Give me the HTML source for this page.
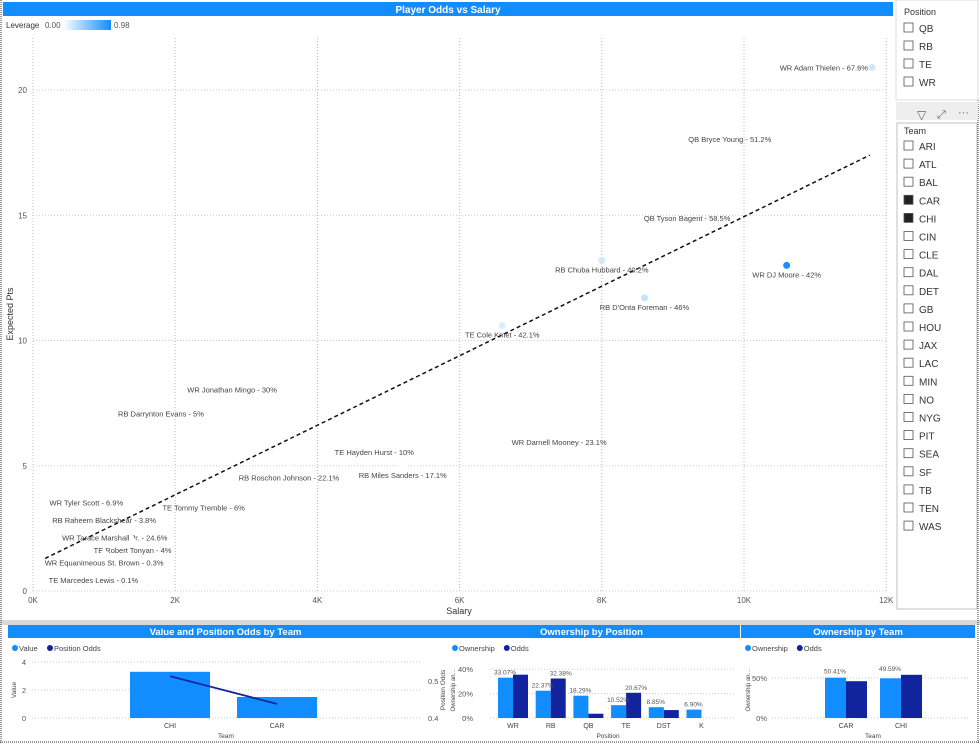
<!DOCTYPE html>
<html><head><meta charset="utf-8"><style>
body{margin:0;background:#fff;font-family:"Liberation Sans",sans-serif}
svg text{font-family:"Liberation Sans",sans-serif}
</style></head><body>
<svg id="s" width="980" height="744" xmlns="http://www.w3.org/2000/svg">
<defs><linearGradient id="lg" x1="0" x2="1"><stop offset="0" stop-color="#fff"/><stop offset="1" stop-color="#118dff"/></linearGradient></defs>
<rect x="0" y="0" width="980" height="744" fill="#fff"/>
<rect x="0" y="620" width="980" height="5" fill="#d8d8d8"/>
<line x1="1" y1="0" x2="1" y2="744" stroke="#333" stroke-dasharray="1,1"/>
<line x1="978" y1="0" x2="978" y2="744" stroke="#333" stroke-dasharray="1,1"/>
<line x1="0" y1="742" x2="980" y2="742" stroke="#333" stroke-dasharray="1,1"/>
<g>
<rect x="3" y="2" width="890" height="14" fill="#118dff"/>
<text x="448" y="13" font-size="10" font-weight="bold" fill="#fff" text-anchor="middle">Player Odds vs Salary</text>
<text x="6" y="28" font-size="8" fill="#333">Leverage</text>
<text x="45" y="28" font-size="8" fill="#555">0.00</text>
<rect x="63" y="20" width="48" height="10" fill="url(#lg)"/>
<text x="114" y="28" font-size="8" fill="#555">0.98</text>
<g id="sc"></g>
</g>
<g>
<rect x="896" y="0" width="82" height="100" fill="#fff" stroke="#ddd"/>
<text x="904" y="15" font-size="9" fill="#333">Position</text>
<g id="pos"></g>
<rect x="896" y="102" width="82" height="18" fill="#eee"/>
<text x="917" y="119" font-size="12" fill="#666">▽</text>
<text x="937" y="118" font-size="11" fill="#666">⤢</text>
<text x="958" y="116" font-size="11" fill="#666">···</text>
<rect x="897" y="123" width="80" height="486" fill="#fff" stroke="#999" stroke-width="0.6"/>
<text x="904" y="134" font-size="9" fill="#333">Team</text>
<g id="team"></g>
</g>
<g id="b1"></g><g id="b2"></g><g id="b3"></g>
</svg>
<script>
// ---------- scatter data ----------
const players=["WR Adam Thielen - 67.6%","QB Bryce Young - 51.2%","QB Tyson Bagent - 58.5%","RB Chuba Hubbard - 40.2%","WR DJ Moore - 42%","RB D'Onta Foreman - 46%","TE Cole Kmet - 42.1%","WR Jonathan Mingo - 30%","RB Darrynton Evans - 5%","WR Darnell Mooney - 23.1%","TE Hayden Hurst - 10%","RB Miles Sanders - 17.1%","RB Roschon Johnson - 22.1%","WR Tyler Scott - 6.9%","TE Tommy Tremble - 6%","RB Raheem Blackshear - 3.8%","WR Tarace Marshall Jr. - 24.6%","TE Robert Tonyan - 4%","WR Equanimeous St. Brown - 0.3%","TE Marcedes Lewis - 0.1%"];
const salary=[11.8,9.8,9.2,8.0,10.6,8.6,6.6,2.8,1.8,7.4,4.8,5.2,3.6,0.75,2.4,1.0,1.15,1.4,1.0,0.85];
const expPts=[20.9,18.4,15.25,13.2,13.0,11.7,10.6,8.4,7.45,6.3,5.9,5.0,4.9,3.9,3.7,3.2,2.5,2.0,1.5,0.8];
const leverage=[0.2,0,0,0.2,0.98,0.25,0.15,0,0,0,0,0,0,0,0,0,0,0,0,0];
const xTicks=[0,2,4,6,8,10,12];
const yTicks=[0,5,10,15,20];
const trendX=[0.17,11.77];
const trendY=[1.3,17.4];
const NS="http://www.w3.org/2000/svg";
function mk(p,tag,a,txt){const e=document.createElementNS(NS,tag);for(const k in a)e.setAttribute(k,a[k]);if(txt!==undefined)e.textContent=txt;p.appendChild(e);return e;}
const sx=v=>33+v*71.1, sy=v=>591-v*25.05;
const sc=document.getElementById('sc');
xTicks.forEach(t=>{const g=mk(sc,'g',{});


mk(g,'line',{x1:sx(t),x2:sx(t),y1:38,y2:591,stroke:'#bbb','stroke-dasharray':'1,2'});
const l=mk(g,'text',{x:sx(t),y:603,'font-size':8,fill:'#555','text-anchor':'middle'},t+'K');

});
yTicks.forEach(t=>{const g=mk(sc,'g',{});


mk(g,'line',{x1:33,x2:886,y1:sy(t),y2:sy(t),stroke:'#ccc','stroke-dasharray':'1,2'});
const l=mk(g,'text',{x:27,y:sy(t)+3,'font-size':8,fill:'#555','text-anchor':'end'},t);

});
let xt=mk(sc,'text',{x:459,y:614,'font-size':9,fill:'#333','text-anchor':'middle'},'Salary');


let yt=mk(sc,'text',{x:13,y:314,'font-size':9,fill:'#333','text-anchor':'middle',transform:'rotate(-90 13 314)'},'Expected Pts');


let tl=mk(sc,'line',{x1:sx(trendX[0]),y1:sy(trendY[0]),x2:sx(trendX[1]),y2:sy(trendY[1]),stroke:'#111','stroke-width':1.5,'stroke-dasharray':'4,3'});


function levColor(v){const r=Math.round(255+(17-255)*v),g=Math.round(255+(141-255)*v);return `rgb(${r},${g},255)`;}
players.forEach((p,i)=>{const cx=sx(salary[i]),cy=sy(expPts[i]);
const c=mk(sc,'circle',{cx:cx,cy:cy,r:3.5,fill:levColor(leverage[i])});


let w=p.length*3.75,lx=cx,ly=cy+12,anchor='middle';
if(cx+w/2>880){lx=cx-4;ly=cy+3;anchor='end';}
const t=mk(sc,'text',{x:lx,y:ly,'font-size':7.5,fill:'#444','text-anchor':anchor},p);

});
// ---------- slicers ----------
const positions=["QB","RB","TE","WR"];
const teams=["ARI","ATL","BAL","CAR","CHI","CIN","CLE","DAL","DET","GB","HOU","JAX","LAC","MIN","NO","NYG","PIT","SEA","SF","TB","TEN","WAS"];
const selTeams=["CAR","CHI"];
const pg=document.getElementById('pos');
positions.forEach((p,i)=>{const y=28+i*18;const g=mk(pg,'g',{});


mk(g,'rect',{x:904,y:y-5,width:9,height:9,fill:'#fff',stroke:'#555','stroke-width':0.8});
mk(g,'text',{x:919,y:y+4,'font-size':10,fill:'#333'},p);});
const tg=document.getElementById('team');
teams.forEach((p,i)=>{const y=146+i*18.1;const s=selTeams.includes(p);const g=mk(tg,'g',{});


mk(g,'rect',{x:904,y:y-5,width:9,height:9,fill:s?'#222':'#fff',stroke:'#555','stroke-width':0.8});
mk(g,'text',{x:919,y:y+4,'font-size':10,fill:'#333'},p);});
// ---------- bottom panel helpers ----------
function panel(g,x0,w,title){mk(g,'rect',{x:x0,y:625,width:w,height:13,fill:'#118dff'});
const t=mk(g,'text',{x:x0+w/2,y:635,'font-size':9.5,'font-weight':'bold',fill:'#fff','text-anchor':'middle'},title);

}
function legend(g,x,items){let cx=x;items.forEach(([lab,col])=>{const e=mk(g,'g',{});


mk(e,'circle',{cx:cx+3,cy:648,r:3,fill:col});mk(e,'text',{x:cx+7,y:651,'font-size':7.5,fill:'#444'},lab);cx+=lab.length*4.2+14;});}
// panel 1
const p1Teams=["CHI","CAR"];
const p1Value=[3.3,1.5];
const p1Odds=[0.513,0.438];
const p1Ticks=[0,2,4];
const p1RTicks=[0.4,0.5];
const b1=document.getElementById('b1');
panel(b1,8,435,'Value and Position Odds by Team');
legend(b1,12,[['Value','#118dff'],['Position Odds','#12239e']]);
const v1=v=>718-v*14, o1=v=>718-(v-0.4)*370, c1=i=>170+i*107;
p1Ticks.forEach(t=>{mk(b1,'line',{x1:32,x2:420,y1:v1(t),y2:v1(t),stroke:'#ccc','stroke-dasharray':'1,2'});mk(b1,'text',{x:26,y:v1(t)+3,'font-size':7.5,fill:'#555','text-anchor':'end'},t);});
p1RTicks.forEach(t=>mk(b1,'text',{x:428,y:o1(t)+3,'font-size':7.5,fill:'#555'},t));
mk(b1,'text',{x:16,y:690,'font-size':6.5,fill:'#444','text-anchor':'middle',transform:'rotate(-90 16 690)'},'Value');
mk(b1,'text',{x:445,y:690,'font-size':6.5,fill:'#444','text-anchor':'middle',transform:'rotate(-90 445 690)'},'Position Odds');
p1Teams.forEach((t,i)=>{const r=mk(b1,'rect',{x:c1(i)-40,y:v1(p1Value[i]),width:80,height:718-v1(p1Value[i]),fill:'#118dff'});


mk(b1,'text',{x:c1(i),y:728,'font-size':7,fill:'#444','text-anchor':'middle'},t);});
let pl=mk(b1,'polyline',{points:p1Teams.map((t,i)=>c1(i)+','+o1(p1Odds[i])).join(' '),fill:'none',stroke:'#12239e','stroke-width':1.8});


mk(b1,'text',{x:226,y:738,'font-size':6.5,fill:'#444','text-anchor':'middle'},'Team');
// panel 2
const p2Pos=["WR","RB","QB","TE","DST","K"];
const p2Own=[33.07,22.37,18.29,10.52,8.85,6.90];
const p2Odds=[35.5,32.38,3.5,20.67,6.5,0];
const p2Ticks=[0,20,40];
const b2=document.getElementById('b2');
panel(b2,443,297,'Ownership by Position');
legend(b2,452,[['Ownership','#118dff'],['Odds','#12239e']]);
const v2=v=>718-v*1.22, c2=i=>513+i*37.7;
p2Ticks.forEach(t=>{mk(b2,'line',{x1:490,x2:735,y1:v2(t),y2:v2(t),stroke:'#ccc','stroke-dasharray':'1,2'});mk(b2,'text',{x:473,y:v2(t)+3,'font-size':7.5,fill:'#555','text-anchor':'end'},t+'%');});
mk(b2,'text',{x:455,y:690,'font-size':6,fill:'#444','text-anchor':'middle',transform:'rotate(-90 455 690)'},'Ownership an\u2026');
p2Pos.forEach((p,i)=>{const a=mk(b2,'rect',{x:c2(i)-15,y:v2(p2Own[i]),width:15,height:718-v2(p2Own[i]),fill:'#118dff'});


const b=mk(b2,'rect',{x:c2(i),y:v2(p2Odds[i]),width:15,height:718-v2(p2Odds[i]),fill:'#12239e'});


mk(b2,'text',{x:c2(i)-8,y:v2(Math.max(p2Own[i],p2Odds[i]*(i==0?0:0)))-3,'font-size':6.5,fill:'#555','text-anchor':'middle'},p2Own[i].toFixed(2)+'%');
if(i==1||i==3)mk(b2,'text',{x:c2(i)+10,y:v2(p2Odds[i])-3,'font-size':6.5,fill:'#555','text-anchor':'middle'},p2Odds[i].toFixed(2)+'%');
mk(b2,'text',{x:c2(i),y:728,'font-size':7,fill:'#444','text-anchor':'middle'},p);});
mk(b2,'text',{x:608,y:738,'font-size':6.5,fill:'#444','text-anchor':'middle'},'Position');
// panel 3
const p3Teams=["CAR","CHI"];
const p3Own=[50.41,49.59];
const p3Odds=[46,54];
const p3Ticks=[0,50];
const b3=document.getElementById('b3');
panel(b3,741,234,'Ownership by Team');
legend(b3,745,[['Ownership','#118dff'],['Odds','#12239e']]);
const v3=v=>718-v*0.8, c3=i=>846+i*55;
p3Ticks.forEach(t=>{mk(b3,'line',{x1:772,x2:970,y1:v3(t),y2:v3(t),stroke:'#ccc','stroke-dasharray':'1,2'});mk(b3,'text',{x:767,y:v3(t)+3,'font-size':7.5,fill:'#555','text-anchor':'end'},t+'%');});
mk(b3,'text',{x:750,y:690,'font-size':6,fill:'#444','text-anchor':'middle',transform:'rotate(-90 750 690)'},'Ownership an\u2026');
p3Teams.forEach((p,i)=>{const a=mk(b3,'rect',{x:c3(i)-21,y:v3(p3Own[i]),width:21,height:718-v3(p3Own[i]),fill:'#118dff'});


const b=mk(b3,'rect',{x:c3(i),y:v3(p3Odds[i]),width:21,height:718-v3(p3Odds[i]),fill:'#12239e'});


mk(b3,'text',{x:c3(i)-11,y:v3(Math.max(p3Own[i],p3Odds[i]))-4,'font-size':6.5,fill:'#555','text-anchor':'middle'},p3Own[i].toFixed(2)+'%');
mk(b3,'text',{x:c3(i),y:728,'font-size':7,fill:'#444','text-anchor':'middle'},p);});
mk(b3,'text',{x:873,y:738,'font-size':6.5,fill:'#444','text-anchor':'middle'},'Team');
</script>
</body></html>
